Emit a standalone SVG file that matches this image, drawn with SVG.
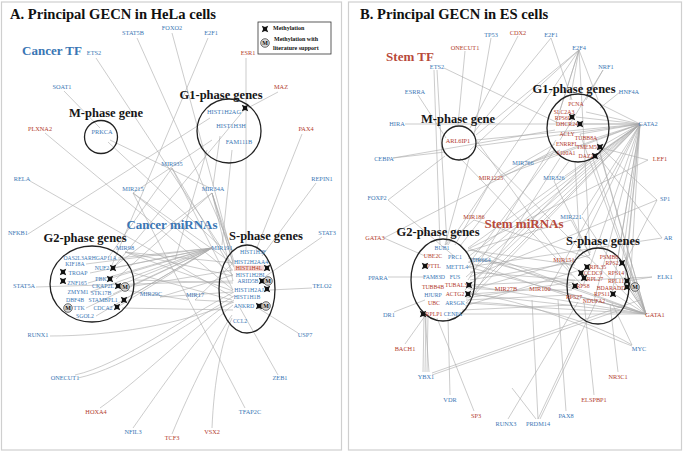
<svg xmlns="http://www.w3.org/2000/svg" width="684" height="452" viewBox="0 0 684 452">
<style>
text{font-family:"Liberation Serif","Times New Roman",serif;font-size:6.3px;text-anchor:middle}
.b{fill:#3a76b4}
.r{fill:#b23a2c}
.g{font-size:5.8px}
.h{font-size:12.5px;font-weight:bold;fill:#161616}
.t{font-size:14.6px;font-weight:bold;fill:#111;text-anchor:start}
.hb{font-size:13px;font-weight:bold;fill:#3a76b4}
.hr{font-size:13px;font-weight:bold;fill:#b8493a}
.lg{font-size:6px;font-weight:bold;fill:#111;text-anchor:start}
.mk{font-size:6px;font-weight:bold;fill:#111}
.e line,.e path{stroke:#a9a9a9;stroke-width:0.6;fill:none}
.c{fill:none;stroke:#222;stroke-width:1.3}
.fr{fill:#fff;stroke:#cfcfcf;stroke-width:1.2}
</style>
<defs>
<path id="st" d="M-3.2,-3.2 L0,-1.9 L3.2,-3.2 L1.9,0 L3.2,3.2 L0,1.9 L-3.2,3.2 L-1.9,0 Z" fill="#111"/>
<g id="mm"><circle r="4.3" fill="#d8d8d8" stroke="#333" stroke-width="0.7"/><text class="mk" y="2.1">M</text></g>
</defs>
<rect width="684" height="452" fill="#fff"/>
<rect class="fr" x="1.5" y="2" width="340" height="448"/>
<rect class="fr" x="348.5" y="2" width="333" height="448"/>

<g class="e" id="connectors">
<!-- Panel A -->
<line x1="137" y1="38" x2="233" y2="252"/>
<line x1="172" y1="33" x2="234" y2="262"/>
<line x1="208" y1="38" x2="112" y2="265"/>
<line x1="96" y1="58" x2="236" y2="270"/>
<line x1="246" y1="58" x2="246" y2="250"/>
<line x1="278" y1="92" x2="244" y2="110"/>
<line x1="244" y1="110" x2="113" y2="268"/>
<line x1="64" y1="91" x2="100" y2="128"/>
<line x1="45" y1="133" x2="233" y2="290"/>
<line x1="302" y1="134" x2="256" y2="250"/>
<line x1="30" y1="181" x2="233" y2="297"/>
<line x1="28" y1="234" x2="210" y2="118"/>
<line x1="36" y1="287" x2="233" y2="281"/>
<line x1="316" y1="183" x2="262" y2="256"/>
<line x1="322" y1="237" x2="266" y2="276"/>
<line x1="312" y1="288" x2="270" y2="290"/>
<line x1="298" y1="333" x2="258" y2="308"/>
<line x1="278" y1="375" x2="240" y2="308"/>
<line x1="245" y1="408" x2="133" y2="193"/>
<path d="M212,428 C214,380 222,340 232,318"/>
<path d="M172,434 C190,390 215,340 232,315"/>
<path d="M133,428 C160,390 200,330 233,305"/>
<path d="M100,408 C140,380 200,320 234,300"/>
<path d="M75,375 C120,365 180,320 234,292"/>
<path d="M78,378 C125,368 185,325 234,296"/>
<path d="M50,336 C110,336 180,325 234,302"/>
<line x1="108" y1="142" x2="220" y2="246"/>
<line x1="110" y1="140" x2="210" y2="188"/>
<line x1="220" y1="136" x2="213" y2="186"/>
<line x1="232" y1="150" x2="222" y2="245"/>
<line x1="207" y1="150" x2="175" y2="260"/>
<line x1="212" y1="248" x2="118" y2="258"/>
<line x1="212" y1="248" x2="86" y2="264"/>
<line x1="212" y1="248" x2="113" y2="268"/>
<line x1="212" y1="248" x2="90" y2="273"/>
<line x1="212" y1="248" x2="88" y2="283"/>
<line x1="212" y1="248" x2="108" y2="279"/>
<line x1="212" y1="248" x2="118" y2="286"/>
<line x1="212" y1="248" x2="90" y2="292"/>
<line x1="212" y1="248" x2="113" y2="294"/>
<line x1="212" y1="248" x2="122" y2="301"/>
<line x1="212" y1="248" x2="86" y2="308"/>
<line x1="212" y1="248" x2="116" y2="308"/>
<line x1="212" y1="248" x2="96" y2="316"/>
<line x1="212" y1="193" x2="232" y2="252"/>
<line x1="212" y1="193" x2="233" y2="263"/>
<line x1="212" y1="193" x2="235" y2="269"/>
<line x1="212" y1="193" x2="233" y2="281"/>
<line x1="212" y1="193" x2="112" y2="268"/>
<line x1="212" y1="193" x2="116" y2="279"/>
<line x1="133" y1="193" x2="232" y2="263"/>
<line x1="133" y1="193" x2="233" y2="275"/>
<line x1="133" y1="193" x2="212" y2="140"/>
<line x1="172" y1="168" x2="232" y2="270"/>
<line x1="172" y1="168" x2="233" y2="290"/>
<line x1="172" y1="168" x2="108" y2="258"/>
<line x1="125" y1="252" x2="233" y2="263"/>
<line x1="125" y1="252" x2="233" y2="276"/>
<line x1="125" y1="252" x2="233" y2="291"/>
<line x1="135" y1="286" x2="233" y2="270"/>
<line x1="135" y1="280" x2="233" y2="283"/>
<line x1="130" y1="272" x2="232" y2="300"/>
<line x1="160" y1="297" x2="233" y2="275"/>
<line x1="160" y1="297" x2="233" y2="292"/>
<line x1="195" y1="300" x2="233" y2="263"/>
<line x1="195" y1="300" x2="233" y2="302"/>
<line x1="188" y1="300" x2="124" y2="290"/>
<line x1="122" y1="308" x2="233" y2="310"/>
<!-- Panel B -->
<line x1="640" y1="124" x2="600" y2="104"/>
<line x1="640" y1="124" x2="586" y2="112"/>
<line x1="640" y1="124" x2="576" y2="117"/>
<line x1="640" y1="124" x2="580" y2="124"/>
<line x1="640" y1="124" x2="596" y2="138"/>
<line x1="640" y1="124" x2="600" y2="147"/>
<line x1="640" y1="124" x2="596" y2="156"/>
<line x1="640" y1="124" x2="580" y2="134"/>
<line x1="640" y1="124" x2="468" y2="248"/>
<line x1="640" y1="124" x2="468" y2="257"/>
<line x1="640" y1="124" x2="468" y2="267"/>
<line x1="640" y1="124" x2="466" y2="277"/>
<line x1="640" y1="124" x2="470" y2="285"/>
<line x1="640" y1="124" x2="470" y2="294"/>
<line x1="640" y1="124" x2="466" y2="303"/>
<line x1="640" y1="124" x2="618" y2="257"/>
<line x1="640" y1="124" x2="622" y2="263"/>
<line x1="640" y1="124" x2="625" y2="273"/>
<line x1="640" y1="124" x2="625" y2="281"/>
<line x1="640" y1="124" x2="630" y2="287"/>
<line x1="640" y1="124" x2="612" y2="294"/>
<line x1="640" y1="124" x2="476" y2="140"/>
<line x1="640" y1="124" x2="476" y2="146"/>
<line x1="640" y1="124" x2="502" y2="176"/>
<line x1="640" y1="124" x2="533" y2="162"/>
<line x1="640" y1="124" x2="565" y2="176"/>
<line x1="640" y1="124" x2="582" y2="215"/>
<line x1="640" y1="124" x2="575" y2="258"/>
<line x1="640" y1="124" x2="550" y2="287"/>
<line x1="640" y1="124" x2="594" y2="301"/>
<line x1="640" y1="124" x2="583" y2="286"/>
<line x1="646" y1="314" x2="625" y2="257"/>
<line x1="646" y1="314" x2="625" y2="263"/>
<line x1="646" y1="314" x2="626" y2="273"/>
<line x1="646" y1="314" x2="627" y2="281"/>
<line x1="646" y1="314" x2="630" y2="290"/>
<line x1="646" y1="314" x2="614" y2="294"/>
<line x1="646" y1="314" x2="606" y2="301"/>
<line x1="646" y1="314" x2="580" y2="297"/>
<line x1="646" y1="314" x2="468" y2="248"/>
<line x1="646" y1="314" x2="468" y2="267"/>
<line x1="646" y1="314" x2="468" y2="285"/>
<line x1="646" y1="314" x2="470" y2="294"/>
<line x1="646" y1="314" x2="466" y2="303"/>
<line x1="646" y1="314" x2="462" y2="314"/>
<line x1="646" y1="314" x2="596" y2="138"/>
<line x1="646" y1="314" x2="598" y2="147"/>
<line x1="646" y1="314" x2="592" y2="156"/>
<line x1="646" y1="314" x2="580" y2="134"/>
<line x1="646" y1="314" x2="490" y2="260"/>
<line x1="646" y1="314" x2="550" y2="289"/>
<line x1="646" y1="314" x2="582" y2="217"/>
<line x1="646" y1="314" x2="476" y2="146"/>
<line x1="579" y1="50" x2="570" y2="100"/>
<line x1="579" y1="50" x2="560" y2="110"/>
<line x1="579" y1="50" x2="556" y2="123"/>
<line x1="579" y1="50" x2="476" y2="135"/>
<line x1="579" y1="50" x2="448" y2="245"/>
<line x1="579" y1="50" x2="590" y2="253"/>
<line x1="579" y1="50" x2="598" y2="100"/>
<line x1="579" y1="50" x2="470" y2="150"/>
<line x1="551" y1="38" x2="572" y2="100"/>
<line x1="551" y1="38" x2="474" y2="132"/>
<line x1="603" y1="70" x2="586" y2="100"/>
<line x1="603" y1="70" x2="560" y2="140"/>
<line x1="620" y1="92" x2="600" y2="108"/>
<line x1="491" y1="38" x2="474" y2="136"/>
<line x1="518" y1="36" x2="470" y2="128"/>
<line x1="465" y1="51" x2="458" y2="125"/>
<line x1="434" y1="70" x2="440" y2="245"/>
<line x1="437" y1="70" x2="447" y2="245"/>
<line x1="444" y1="68" x2="556" y2="122"/>
<line x1="418" y1="95" x2="446" y2="138"/>
<line x1="405" y1="124" x2="638" y2="124"/>
<line x1="393" y1="158" x2="555" y2="130"/>
<line x1="393" y1="158" x2="445" y2="152"/>
<line x1="388" y1="200" x2="455" y2="257"/>
<line x1="388" y1="200" x2="445" y2="156"/>
<line x1="384" y1="238" x2="425" y2="256"/>
<line x1="384" y1="238" x2="555" y2="150"/>
<line x1="388" y1="277" x2="424" y2="277"/>
<line x1="394" y1="312" x2="425" y2="300"/>
<line x1="405" y1="344" x2="425" y2="316"/>
<line x1="423" y1="372" x2="424" y2="315"/>
<line x1="425" y1="372" x2="426" y2="315"/>
<line x1="427" y1="372" x2="428" y2="315"/>
<line x1="429" y1="372" x2="425" y2="315"/>
<line x1="432" y1="373" x2="640" y2="300"/>
<line x1="432" y1="375" x2="620" y2="310"/>
<line x1="450" y1="395" x2="448" y2="318"/>
<line x1="474" y1="411" x2="437" y2="318"/>
<line x1="508" y1="419" x2="578" y2="302"/>
<line x1="536" y1="419" x2="512" y2="388"/>
<line x1="538" y1="419" x2="580" y2="330"/>
<line x1="538" y1="419" x2="532" y2="300"/>
<line x1="540" y1="419" x2="596" y2="302"/>
<line x1="566" y1="411" x2="558" y2="300"/>
<line x1="594" y1="395" x2="584" y2="302"/>
<line x1="618" y1="372" x2="610" y2="304"/>
<line x1="632" y1="345" x2="612" y2="303"/>
<path d="M632,345 C590,320 520,300 468,303"/>
<path d="M632,346 C590,330 530,300 470,294"/>
<line x1="657" y1="200" x2="600" y2="147"/>
<line x1="657" y1="200" x2="470" y2="277"/>
<line x1="657" y1="200" x2="625" y2="263"/>
<line x1="662" y1="238" x2="468" y2="267"/>
<line x1="662" y1="238" x2="598" y2="156"/>
<line x1="652" y1="277" x2="627" y2="281"/>
<line x1="652" y1="277" x2="470" y2="285"/>
<line x1="648" y1="160" x2="598" y2="147"/>
<line x1="648" y1="160" x2="470" y2="248"/>
<line x1="491" y1="181" x2="455" y2="245"/>
<line x1="491" y1="181" x2="555" y2="144"/>
<line x1="474" y1="220" x2="445" y2="245"/>
<line x1="474" y1="220" x2="590" y2="258"/>
<line x1="523" y1="166" x2="560" y2="150"/>
<line x1="523" y1="166" x2="460" y2="246"/>
<line x1="554" y1="181" x2="570" y2="160"/>
<line x1="554" y1="181" x2="590" y2="255"/>
<line x1="571" y1="220" x2="590" y2="255"/>
<line x1="571" y1="220" x2="465" y2="252"/>
<line x1="490" y1="262" x2="468" y2="258"/>
<line x1="490" y1="262" x2="572" y2="285"/>
<line x1="564" y1="262" x2="578" y2="270"/>
<line x1="548" y1="290" x2="572" y2="290"/>
<line x1="530" y1="290" x2="470" y2="294"/>
<line x1="498" y1="290" x2="468" y2="288"/>
<line x1="476" y1="140" x2="570" y2="270"/>
<line x1="470" y1="155" x2="445" y2="245"/>
<line x1="460" y1="158" x2="583" y2="286"/>
<line x1="555" y1="150" x2="470" y2="262"/>
<line x1="560" y1="158" x2="470" y2="300"/>
<line x1="575" y1="162" x2="580" y2="252"/>
<line x1="590" y1="160" x2="465" y2="290"/>
<line x1="556" y1="140" x2="468" y2="280"/>
<line x1="468" y1="250" x2="575" y2="265"/>
<line x1="470" y1="272" x2="575" y2="280"/>
<line x1="466" y1="300" x2="570" y2="295"/>
<line x1="462" y1="310" x2="572" y2="305"/>
<line x1="470" y1="258" x2="572" y2="275"/>
<line x1="468" y1="262" x2="580" y2="300"/>
<line x1="470" y1="280" x2="576" y2="262"/>
<line x1="470" y1="290" x2="590" y2="255"/>
<line x1="466" y1="298" x2="574" y2="282"/>
<line x1="465" y1="306" x2="580" y2="270"/>
</g>

<!-- Panel A nodes -->
<g id="a-title"><text class="t" x="10" y="19">A. Principal GECN in HeLa cells</text></g>
<g id="a-legend">
<rect x="258" y="22" width="73" height="32" fill="#fff" stroke="#333" stroke-width="0.8"/>
<use href="#st" x="265" y="29"/>
<text class="lg" x="273" y="30">Methylation</text>
<use href="#mm" x="265" y="43"/>
<text class="lg" x="274" y="41">Methylation with</text>
<text class="lg" x="273" y="50">literature support</text>
</g>
<g id="a-cancertf"><text class="hb" x="52" y="55">Cancer TF</text></g>
<g id="a-cancermir"><text class="hb" x="172" y="229">Cancer miRNAs</text></g>
<g id="a-stat5b"><text class="b" x="133" y="35">STAT5B</text></g>
<g id="a-foxo2"><text class="b" x="172" y="30">FOXO2</text></g>
<g id="a-e2f1"><text class="b" x="211" y="35">E2F1</text></g>
<g id="a-ets2"><text class="b" x="94" y="55">ETS2</text></g>
<g id="a-esr1"><text class="r" x="248" y="55">ESR1</text></g>
<g id="a-soat1"><text class="b" x="62" y="89">SOAT1</text></g>
<g id="a-maz"><text class="r" x="281" y="89">MAZ</text></g>
<g id="a-plxna2"><text class="r" x="40" y="131">PLXNA2</text></g>
<g id="a-pax4"><text class="r" x="306" y="131">PAX4</text></g>
<g id="a-mphase">
<text class="h" x="106" y="117">M-phase gene</text>
<circle class="c" cx="101" cy="137" r="16.5"/>
<text class="b" x="102" y="134">PRKCA</text>
</g>
<g id="a-g1phase">
<text class="h" x="221" y="99">G1-phase genes</text>
<circle class="c" cx="229" cy="131" r="32"/>
<text class="b" x="224" y="114">HIST1H2AG</text>
<use href="#st" x="245" y="108"/>
<text class="b" x="231" y="128">HIST1H3H</text>
<text class="b" x="239" y="144">FAM111B</text>
</g>
<g id="a-rela"><text class="b" x="22" y="181">RELA</text></g>
<g id="a-mir215"><text class="b" x="133" y="191">MIR215</text></g>
<g id="a-mir935"><text class="b" x="172" y="166">MIR935</text></g>
<g id="a-mir34a"><text class="b" x="213" y="191">MIR34A</text></g>
<g id="a-repin1"><text class="b" x="322" y="181">REPIN1</text></g>
<g id="a-stat3"><text class="b" x="327" y="235">STAT3</text></g>
<g id="a-nfkb1"><text class="b" x="18" y="235">NFKB1</text></g>
<g id="a-mir98"><text class="b" x="125" y="250">MIR98</text></g>
<g id="a-mir191"><text class="b" x="222" y="250">MIR191</text></g>
<g id="a-stat5a"><text class="b" x="24" y="288">STAT5A</text></g>
<g id="a-mir29c"><text class="b" x="151" y="296">MIR29C</text></g>
<g id="a-mir17"><text class="b" x="195" y="297">MIR17</text></g>
<g id="a-telo2"><text class="b" x="322" y="288">TELO2</text></g>
<g id="a-usp7"><text class="b" x="305" y="337">USP7</text></g>
<g id="a-zeb1"><text class="b" x="280" y="380">ZEB1</text></g>
<g id="a-runx1"><text class="b" x="38" y="337">RUNX1</text></g>
<g id="a-onecut1"><text class="b" x="65" y="380">ONECUT1</text></g>
<g id="a-hoxa4"><text class="r" x="96" y="414">HOXA4</text></g>
<g id="a-tfap2c"><text class="b" x="250" y="414">TFAP2C</text></g>
<g id="a-nfil3"><text class="b" x="133" y="434">NFIL3</text></g>
<g id="a-tcf3"><text class="r" x="172" y="440">TCF3</text></g>
<g id="a-vsx2"><text class="r" x="212" y="434">VSX2</text></g>
<g id="a-g2phase">
<text class="h" x="85" y="242">G2-phase genes</text>
<ellipse class="c" cx="92" cy="284" rx="42" ry="38"/>
<text class="b g" x="90" y="260" textLength="53" lengthAdjust="spacingAndGlyphs">OAS2L3ARHGAP11A</text>
<text class="b g" x="75" y="266">KIF18A</text>
<text class="b g" x="102" y="270">NUF2</text><use href="#st" x="113" y="268"/>
<use href="#st" x="63" y="272"/><text class="b g" x="78" y="275">TROAP</text>
<text class="b g" x="101" y="281">PBK</text><use href="#st" x="110" y="279"/>
<use href="#st" x="63" y="281"/><text class="b g" x="77" y="285">ZNF165</text>
<text class="b g" x="103" y="288">CKAP2L</text><use href="#st" x="118" y="286"/><use href="#mm" x="125" y="287"/>
<text class="b g" x="78" y="294">ZMYM1</text>
<text class="b g" x="101" y="295">STK17B</text>
<text class="b g" x="75" y="302">DBF4B</text>
<text class="b g" x="103" y="302">STAMBPL1</text><use href="#st" x="124" y="300"/>
<use href="#mm" x="68" y="308"/><text class="b g" x="79" y="310">TTK</text>
<text class="b g" x="103" y="310">CDCA2</text><use href="#st" x="117" y="307"/>
<text class="b g" x="85" y="318">SGOL2</text>
</g>
<g id="a-sphase">
<text class="h" x="266" y="240">S-phase genes</text>
<ellipse class="c" cx="247" cy="289" rx="28" ry="44"/>
<text class="b g" x="253" y="254">HIST1H3F</text>
<text class="b g" x="251" y="263.5">HIST2H2AA4</text>
<rect x="234" y="265.5" width="30" height="5.5" fill="#f4d6d2"/>
<text class="r g" x="249" y="270.2">HIST1H4L</text><use href="#st" x="267" y="268"/>
<text class="b g" x="251" y="276.5">HIST1H2BL</text>
<text class="b g" x="248" y="283">ARID5B</text><use href="#st" x="262" y="281"/><use href="#mm" x="268" y="281"/>
<text class="b g" x="249" y="292">HIST1H2AJ</text><use href="#st" x="267" y="289"/>
<text class="b g" x="247" y="299">HIST1H1B</text>
<text class="b g" x="244" y="308">ANKRD</text><use href="#st" x="259" y="306"/><use href="#mm" x="266" y="306"/>
<text class="b g" x="240" y="323">CCL2</text>
</g>

<!-- Panel B nodes -->
<g id="b-title"><text class="t" x="360" y="19">B. Principal GECN in ES cells</text></g>
<g id="b-stemtf"><text class="hr" x="410" y="61">Stem TF</text></g>
<g id="b-stemmir"><text class="hr" x="524" y="228">Stem miRNAs</text></g>
<g id="b-onecut1"><text class="r" x="465" y="50">ONECUT1</text></g>
<g id="b-tp53"><text class="b" x="491" y="37">TP53</text></g>
<g id="b-cdx2"><text class="r" x="518" y="35">CDX2</text></g>
<g id="b-e2f1"><text class="b" x="551" y="37">E2F1</text></g>
<g id="b-e2f4"><text class="b" x="579" y="50">E2F4</text></g>
<g id="b-nrf1"><text class="b" x="606" y="69">NRF1</text></g>
<g id="b-hnf4a"><text class="b" x="629" y="94">HNF4A</text></g>
<g id="b-ets2"><text class="b" x="437" y="69">ETS2</text></g>
<g id="b-esrra"><text class="b" x="415" y="94">ESRRA</text></g>
<g id="b-hira"><text class="b" x="397" y="126">HIRA</text></g>
<g id="b-cebpa"><text class="b" x="384" y="161">CEBPA</text></g>
<g id="b-foxp2"><text class="b" x="377" y="200">FOXP2</text></g>
<g id="b-gata3"><text class="r" x="375" y="240">GATA3</text></g>
<g id="b-ppara"><text class="b" x="378" y="280">PPARA</text></g>
<g id="b-dr1"><text class="b" x="389" y="317">DR1</text></g>
<g id="b-bach1"><text class="r" x="405" y="351">BACH1</text></g>
<g id="b-ybx1"><text class="b" x="426" y="379">YBX1</text></g>
<g id="b-vdr"><text class="b" x="450" y="402">VDR</text></g>
<g id="b-sp3"><text class="r" x="476" y="418">SP3</text></g>
<g id="b-runx3"><text class="b" x="506" y="426">RUNX3</text></g>
<g id="b-prdm14"><text class="b" x="538" y="426">PRDM14</text></g>
<g id="b-pax8"><text class="b" x="566" y="418">PAX8</text></g>
<g id="b-elspbp1"><text class="r" x="594" y="402">ELSPBP1</text></g>
<g id="b-nr3c1"><text class="r" x="618" y="379">NR3C1</text></g>
<g id="b-myc"><text class="b" x="639" y="351">MYC</text></g>
<g id="b-gata1"><text class="r" x="655" y="317">GATA1</text></g>
<g id="b-elk1"><text class="b" x="665" y="279">ELK1</text></g>
<g id="b-ar"><text class="b" x="668" y="240">AR</text></g>
<g id="b-sp1"><text class="b" x="665" y="201">SP1</text></g>
<g id="b-lef1"><text class="r" x="660" y="161">LEF1</text></g>
<g id="b-gata2"><text class="b" x="648" y="126">GATA2</text></g>
<g id="b-mir1225"><text class="r" x="491" y="180">MIR1225</text></g>
<g id="b-mir186"><text class="r" x="474" y="219">MIR186</text></g>
<g id="b-mir766"><text class="b" x="523" y="165">MIR766</text></g>
<g id="b-mir326"><text class="b" x="554" y="180">MIR326</text></g>
<g id="b-mir221"><text class="b" x="571" y="219">MIR221</text></g>
<g id="b-mir664"><text class="b" x="480" y="262">MIR664</text></g>
<g id="b-mir151"><text class="r" x="564" y="262">MIR151</text></g>
<g id="b-mir27"><text class="r" x="506" y="291">MIR27B</text></g>
<g id="b-mir100"><text class="r" x="540" y="291">MIR100</text></g>
<g id="b-mphase">
<text class="h" x="458" y="123">M-phase gene</text>
<circle class="c" cx="459" cy="143" r="17"/>
<text class="r" x="458" y="143">ARL6IP1</text>
</g>
<g id="b-g1phase">
<text class="h" x="574" y="93">G1-phase genes</text>
<ellipse class="c" cx="578" cy="128" rx="31" ry="34"/>
<text class="r g" x="576" y="106">PCNA</text>
<text class="r g" x="564" y="114">SLC2A3</text>
<text class="r g" x="563" y="120">RPS6P</text><use href="#st" x="572" y="117"/>
<text class="r g" x="567" y="126">DHCR24</text><use href="#st" x="580" y="124"/>
<text class="r g" x="567" y="136">ACLY</text>
<text class="r g" x="586" y="140">TUBB8A</text>
<text class="r g" x="567" y="146">ENRRFL</text>
<text class="r g" x="588" y="149">TMEM50</text><use href="#st" x="600" y="147"/>
<text class="r g" x="566" y="155">S100A1</text>
<text class="r g" x="586" y="158">DAZ2</text><use href="#st" x="595" y="156"/>
</g>
<g id="b-g2phase">
<text class="h" x="438" y="236">G2-phase genes</text>
<ellipse class="c" cx="443" cy="280" rx="32" ry="41"/>
<text class="b g" x="442" y="250">BUB1</text>
<text class="r g" x="433" y="258">UBE2C</text>
<text class="b g" x="455" y="259">PRC1</text>
<use href="#st" x="425" y="266"/><text class="r g" x="434" y="268">PTTL</text>
<text class="b g" x="457" y="269">METTL4</text>
<text class="b g" x="434" y="279">FAM83D</text>
<text class="b g" x="455" y="279">FUS</text>
<text class="r g" x="433" y="288.5">TUBB4B</text>
<text class="r g" x="456" y="286.5">TUBAL3</text><use href="#st" x="469" y="285"/>
<text class="b g" x="433" y="297">HJURP</text>
<text class="r g" x="455" y="296">ACTG2</text><use href="#st" x="468" y="294"/>
<text class="r g" x="434" y="305">UBC</text>
<text class="b g" x="455" y="305">ARSGK</text>
<use href="#st" x="423" y="314"/><text class="r g" x="434" y="316">RPLP1</text>
<text class="b g" x="453" y="316">CENPA</text>
</g>
<g id="b-sphase">
<text class="h" x="603" y="245">S-phase genes</text>
<ellipse class="c" cx="598" cy="286" rx="31" ry="38"/>
<text class="r g" x="609" y="259">PSMB6</text>
<text class="r g" x="612" y="265">RPS2</text><use href="#st" x="622" y="263"/>
<use href="#st" x="587" y="267"/><text class="r g" x="598" y="269">RPL35</text>
<use href="#st" x="581" y="273"/><text class="r g" x="593" y="275">CCDC9</text>
<text class="r g" x="616" y="275">RPS14</text>
<use href="#st" x="584" y="278"/><text class="r g" x="595" y="281">RPL27</text>
<text class="r g" x="616" y="283">RPL11</text><use href="#st" x="627" y="281"/>
<use href="#st" x="575" y="286"/><text class="r g" x="583" y="288">RPS8</text>
<text class="r g" x="611" y="289.5">BDARADD</text><use href="#st" x="627" y="287"/><use href="#mm" x="635" y="287"/>
<text class="r g" x="602" y="296">RPS11</text><use href="#st" x="613" y="294"/>
<text class="r g" x="574" y="299">RPS27</text>
<text class="r g" x="594" y="303">NDUFA2</text>
</g>
</svg>
